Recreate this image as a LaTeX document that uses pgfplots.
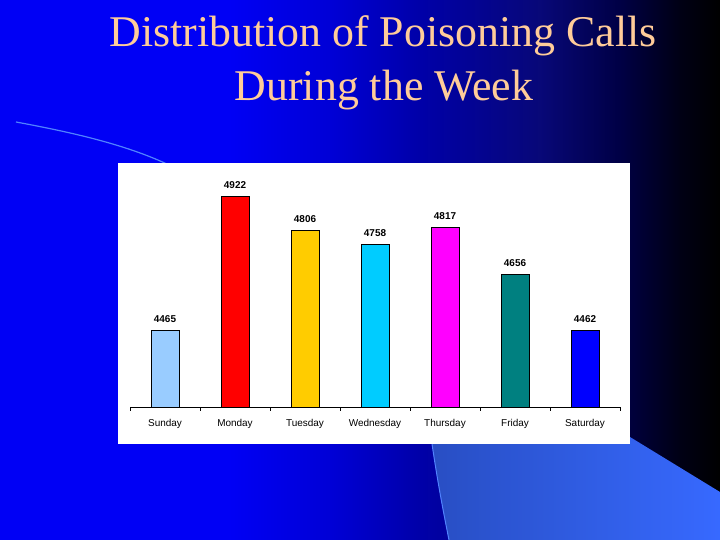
\documentclass[border=0pt]{standalone}
\usepackage{pgfplots}
\pgfplotsset{compat=1.18}
\usepackage{fontspec}
\setmainfont{Liberation Sans}
\newfontfamily\titlefont{Liberation Serif}

\definecolor{titlecol}{RGB}{255,204,153}
\definecolor{arccol}{RGB}{80,130,255}
\definecolor{panelL}{RGB}{40,78,195}
\definecolor{panelM}{RGB}{50,100,240}
\definecolor{panelR}{RGB}{55,105,255}
\definecolor{cSun}{RGB}{153,204,255}
\definecolor{cMon}{RGB}{255,0,0}
\definecolor{cTue}{RGB}{255,204,0}
\definecolor{cWed}{RGB}{0,204,255}
\definecolor{cThu}{RGB}{255,0,255}
\definecolor{cFri}{RGB}{0,128,128}
\definecolor{cSat}{RGB}{0,0,255}

% slide background, blue on the left fading to black on the right
\pgfdeclarehorizontalshading{slidebg}{100bp}{rgb(0bp)=(0,0,0.96); rgb(40.97bp)=(0,0,0.96); rgb(47.92bp)=(0,0,0.84); rgb(54.17bp)=(0,0,0.66); rgb(62.5bp)=(0.03,0.03,0.47); rgb(68.06bp)=(0,0,0.27); rgb(72.22bp)=(0,0,0.08); rgb(75bp)=(0,0,0); rgb(100bp)=(0,0,0)}

\tikzset{
    bar/.style = {ybar, bar width=28bp, bar shift=0pt, draw=black, line width=0.6bp, fill=#1}
}

\begin{document}
\begin{tikzpicture}[x=1bp,y=1bp]
    \useasboundingbox (0,0) rectangle (720,540);
    \shade[shading=slidebg] (0,0) rectangle (720,540);

    % decorations
    \shade[left color=panelL, middle color=panelM, right color=panelR]
        (430,110) .. controls (437,60) and (444,25) .. (449,0) -- (720,0) -- (720,48) -- (630,103) -- cycle;
    \draw[arccol, line width=1bp] (430,110) .. controls (437,60) and (444,25) .. (449,0);
    \draw[arccol, line width=1.2bp] (16,418) .. controls (70,408) and (130,395) .. (175,372);

    % title
    \node[anchor=base, font=\titlefont\fontsize{44}{50}\selectfont, text=titlecol] at (383,493) {Distribution of Poisoning Calls};
    \node[anchor=base, font=\titlefont\fontsize{44}{50}\selectfont, text=titlecol] at (384,439) {During the Week};

    % chart area
    \fill[white] (118,96) rectangle (630,377);
    \coordinate (axpos) at (130,133);

    \begin{axis}[
        at={(axpos)}, anchor=south west,
        width=490bp, height=233bp, scale only axis,
        xmin=-0.5, xmax=6.5, ymin=4200, ymax=5000,
        axis x line*=bottom, hide y axis,
        xtick={0,...,6},
        xticklabels={Sunday, Monday, Tuesday, Wednesday, Thursday, Friday, Saturday},
        major tick length=0pt,
        minor xtick={-0.5,0.5,...,6.5},
        minor tick length=4bp,
        tick align=outside,
        axis line style={black, line width=0.8bp},
        every tick/.style={black, line width=0.8bp},
        xticklabel style={font=\fontsize{10}{12}\selectfont, yshift=-9bp},
        /pgf/number format/assume math mode=true,
        /pgf/number format/1000 sep={},
        nodes near coords,
        every node near coord/.append style={font=\bfseries\fontsize{10}{12}\selectfont, yshift=4bp},
    ]
        \addplot[bar=cSun] coordinates {(0,4465)};
        \addplot[bar=cMon] coordinates {(1,4922)};
        \addplot[bar=cTue] coordinates {(2,4806)};
        \addplot[bar=cWed] coordinates {(3,4758)};
        \addplot[bar=cThu] coordinates {(4,4817)};
        \addplot[bar=cFri] coordinates {(5,4656)};
        \addplot[bar=cSat] coordinates {(6,4462)};
    \end{axis}
\end{tikzpicture}
\end{document}
